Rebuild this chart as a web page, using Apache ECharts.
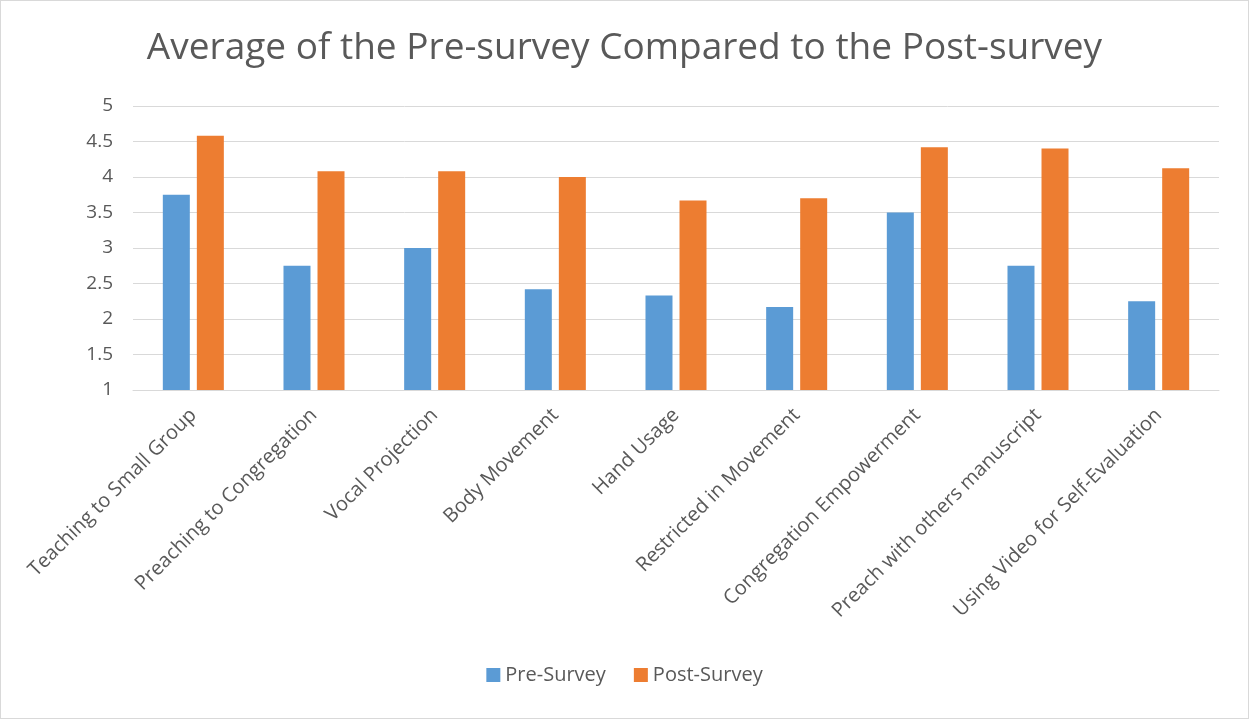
<!DOCTYPE html>
<html>
<head>
<meta charset="utf-8">
<script src="https://cdn.jsdelivr.net/npm/echarts@6/dist/echarts.min.js"></script>
<style>
  html, body { margin: 0; padding: 0; background: #fff; }
  #chart { width: 1247px; height: 717px; border: 1px solid #d9d9d9; }
</style>
</head>
<body>
<div id="chart"></div>
<script>
// categories and values
var categories = [
  "Teaching to Small Group",
  "Preaching to Congregation",
  "Vocal Projection",
  "Body Movement",
  "Hand Usage",
  "Restricted in Movement",
  "Congregation Empowerment",
  "Preach with others manuscript",
  "Using Video for Self-Evaluation"
];
var preSurvey = [3.75, 2.75, 3.0, 2.42, 2.33, 2.17, 3.5, 2.75, 2.25];
var postSurvey = [4.58, 4.08, 4.08, 4.0, 3.67, 3.7, 4.42, 4.4, 4.125];
var yTicks = [1, 1.5, 2, 2.5, 3, 3.5, 4, 4.5, 5];

var font = "Open Sans";
var textColor = "#595959";

var chart = echarts.init(document.getElementById("chart"));
var option = {
  animation: false,
  title: {
    text: "Average of the Pre-survey Compared to the Post-survey",
    left: "center",
    top: 24,
    textStyle: { fontFamily: font, fontSize: 37, fontWeight: "normal", color: textColor }
  },
  legend: {
    data: ["Pre-Survey", "Post-Survey"],
    bottom: 28,
    left: "center",
    icon: "rect",
    itemWidth: 14,
    itemHeight: 14,
    itemGap: 28,
    textStyle: { fontFamily: font, fontSize: 20, color: textColor }
  },
  grid: { left: 132, right: 29, top: 105, bottom: 328 },
  xAxis: {
    type: "category",
    data: categories,
    axisLine: { lineStyle: { color: "#d9d9d9" } },
    axisTick: { show: false },
    axisLabel: {
      rotate: 45,
      interval: 0,
      margin: 22,
      fontFamily: font,
      fontSize: 20,
      color: textColor
    }
  },
  yAxis: {
    type: "value",
    min: yTicks[0],
    max: yTicks[yTicks.length - 1],
    interval: 0.5,
    axisLine: { show: false },
    axisTick: { show: false },
    splitLine: { lineStyle: { color: "#d9d9d9", width: 1 } },
    axisLabel: { fontFamily: font, fontSize: 19, color: textColor, margin: 20 }
  },
  series: [
    {
      name: "Pre-Survey",
      type: "bar",
      data: preSurvey,
      barWidth: 27,
      barGap: "26%",
      itemStyle: { color: "#5b9bd5" }
    },
    {
      name: "Post-Survey",
      type: "bar",
      data: postSurvey,
      barWidth: 27,
      itemStyle: { color: "#ed7d31" }
    }
  ]
};
chart.setOption(option);
</script>
</body>
</html>
